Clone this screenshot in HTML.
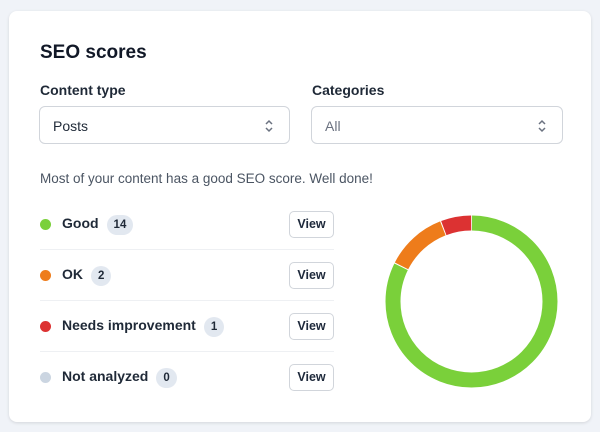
<!DOCTYPE html>
<html><head><meta charset="utf-8"><style>
body{margin:0;width:600px;height:432px;background:#f0f3f8;font-family:"Liberation Sans",sans-serif;color:#1e293b;position:relative;overflow:hidden}
.card{position:absolute;left:9px;top:11px;width:582px;height:411px;background:#fff;border-radius:8px;box-shadow:0 1px 3px rgba(0,0,0,.12)}
.abs{position:absolute}
h1{position:absolute;left:40px;top:42px;margin:0;font-size:19px;font-weight:600;color:#111827}
.lbl{font-size:14px;font-weight:600;color:#1f2937}
.sel{position:absolute;height:38px;border:1px solid #d1d5db;border-radius:6px;box-sizing:border-box;font-size:14px;padding-left:13px;line-height:38px}
.chev{position:absolute;right:15px;top:11px;width:10px;height:16px}
.row{position:absolute;left:40px;width:294px;height:51px}
.dot{position:absolute;left:0;width:11px;height:11px;border-radius:50%}
.name{position:absolute;left:22px;font-size:14px;font-weight:600;color:#1f2937}
.badge{display:inline-block;margin-left:8px;background:#e2e8f0;border-radius:10px;padding:0 7px;font-size:11.5px;font-weight:700;line-height:20px;vertical-align:0}
.btn{position:absolute;right:0;width:45px;height:27px;border:1px solid #d1d5db;border-radius:5px;box-sizing:border-box;font-size:12.5px;font-weight:600;text-align:center;line-height:25px}
.sep{position:absolute;left:40px;width:294px;height:1px;background:#eef0f3}
</style></head><body>
<div class="card"></div>
<h1>SEO scores</h1>
<div class="abs lbl" style="left:40px;top:82px">Content type</div>
<div class="abs lbl" style="left:312px;top:82px">Categories</div>
<div class="sel" style="left:39px;top:106px;width:251px;color:#1f2937">Posts<svg class="chev" viewBox="0 0 10 16"><path d="M2 6l3-3 3 3M2 10l3 3 3-3" fill="none" stroke="#6b7280" stroke-width="1.5"/></svg></div>
<div class="sel" style="left:311px;top:106px;width:252px;color:#6b7280">All<svg class="chev" viewBox="0 0 10 16"><path d="M2 6l3-3 3 3M2 10l3 3 3-3" fill="none" stroke="#6b7280" stroke-width="1.5"/></svg></div>
<div class="abs" style="left:40px;top:171px;font-size:13.5px;color:#4b5563">Most of your content has a good SEO score. Well done!</div>

<div class="row" style="top:200px"><div class="dot" style="top:19px;background:#7ad03a"></div><div class="name" style="top:15px">Good<span class="badge">14</span></div><div class="btn" style="top:11px">View</div></div>
<div class="sep" style="top:249px"></div>
<div class="row" style="top:251px"><div class="dot" style="top:19px;background:#ee7c1b"></div><div class="name" style="top:15px">OK<span class="badge">2</span></div><div class="btn" style="top:11px">View</div></div>
<div class="sep" style="top:300px"></div>
<div class="row" style="top:302px"><div class="dot" style="top:19px;background:#dc3232"></div><div class="name" style="top:15px">Needs improvement<span class="badge">1</span></div><div class="btn" style="top:11px">View</div></div>
<div class="sep" style="top:351px"></div>
<div class="row" style="top:353px"><div class="dot" style="top:19px;background:#cbd5e1"></div><div class="name" style="top:15px">Not analyzed<span class="badge">0</span></div><div class="btn" style="top:11px">View</div></div>

<svg class="abs" style="left:0;top:0" width="600" height="432">
<g transform="rotate(-90 471.5 301.5)" fill="none" stroke-width="15">
<circle cx="471.5" cy="301.5" r="78.5" stroke="#7ad03a" stroke-dasharray="405.2 1000" stroke-dashoffset="-0.5"/>
<circle cx="471.5" cy="301.5" r="78.5" stroke="#ee7c1b" stroke-dasharray="57 1000" stroke-dashoffset="-406.7"/>
<circle cx="471.5" cy="301.5" r="78.5" stroke="#dc3232" stroke-dasharray="28 1000" stroke-dashoffset="-464.7"/>
</g></svg>
</body></html>
